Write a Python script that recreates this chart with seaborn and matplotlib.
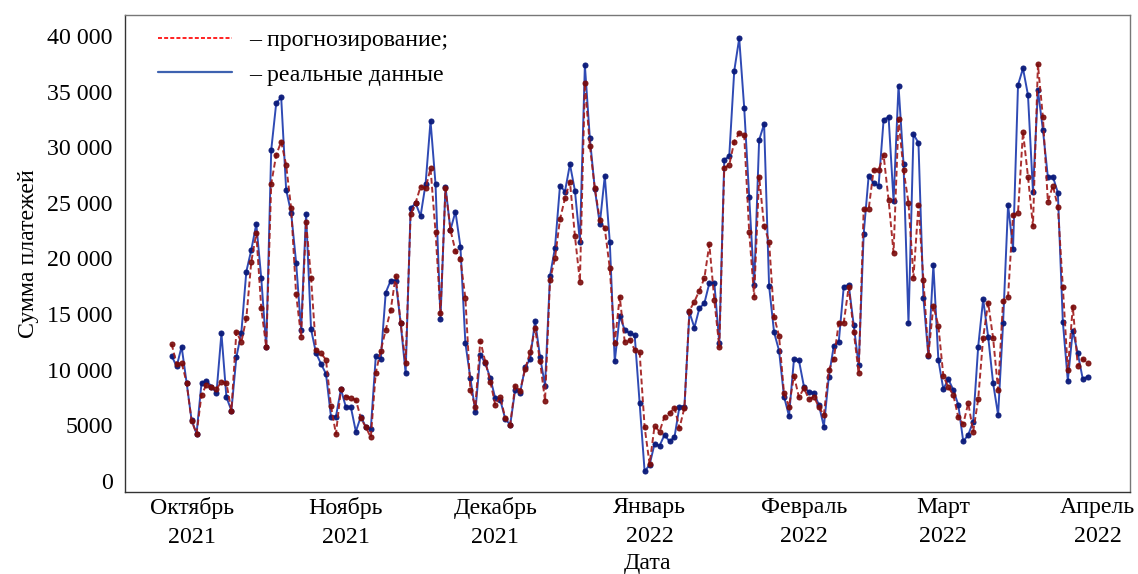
import numpy as np
import pandas as pd
import matplotlib
matplotlib.use("Agg")
import matplotlib.pyplot as plt
import matplotlib.dates as mdates
import matplotlib.transforms as mtransforms
from matplotlib.lines import Line2D
from matplotlib.ticker import FuncFormatter
import seaborn as sns

# ---------------- data ----------------
start_date = "2021-09-28"
real = [11240, 10280, 12070, 8840, 5480, 4230, 8800, 9020, 8480, 7880,
        13270, 7520, 6320, 11120, 13330, 18820, 20770, 23100, 18220, 12020,
        29750, 33950, 34490, 26160, 24120, 19630, 13570, 24000, 13630, 11480,
        10520, 9620, 5780, 5780, 8240, 6620, 6620, 4430, 5780, 4830,
        4650, 11180, 10940, 16930, 18010, 18010, 14170, 9680, 24510, 24960,
        23820, 26670, 32360, 26700, 14560, 26460, 22560, 24210, 21070, 12380,
        9230, 6230, 11330, 10580, 9230, 7430, 7280, 5570, 5030, 8180,
        7940, 10220, 10940, 14410, 11120, 8570, 18430, 20970, 26550, 26010,
        28470, 26100, 21510, 37390, 30800, 26220, 23100, 27420, 21510, 10730,
        14830, 13570, 13270, 13120, 6980, 840, 1440, 3330, 3150, 4140,
        3540, 3930, 6680, 6680, 15160, 13780, 15520, 15970, 17770, 17830,
        12380, 28850, 29210, 36860, 39800, 33560, 25500, 17620, 30650, 32090,
        17530, 13360, 11710, 7580, 5840, 10940, 10820, 8480, 7970, 7940,
        6830, 4880, 9380, 12140, 12520, 17470, 17620, 14020, 10370, 22200,
        27420, 26760, 26550, 32450, 32750, 25170, 35540, 28530, 14170, 31160,
        30410, 16420, 11180, 19420, 10880, 8240, 9140, 8180, 6830, 3540,
        4140, 5330, 12070, 16330, 12970, 8780, 5930, 14170, 24810, 20860,
        35600, 37090, 34700, 26010, 35150, 31550, 27300, 27360, 25920, 14320,
        9020, 13510, 11480, 9170, 9380]

forecast = [12300, 10500, 10630, 8840, 5400, 4230, 7730, 8650, 8480, 8240,
            8930, 8780, 6320, 13420, 12470, 14620, 19720, 22260, 15520, 12020,
            26700, 29300, 30500, 28400, 24510, 16780, 12970, 23310, 18220, 11780,
            11480, 10880, 6740, 4200, 8240, 7580, 7430, 7280, 5630, 4830,
            3900, 9740, 11690, 13570, 15370, 18430, 14170, 10580, 23970, 25000,
            26460, 26310, 28110, 22410, 15070, 26310, 22560, 20680, 19930, 16420,
            8180, 6680, 12580, 10700, 8930, 6830, 7580, 5630, 5030, 8570,
            8120, 10040, 11540, 13720, 10730, 7190, 18070, 20020, 23520, 25410,
            26910, 22020, 17910, 35750, 30140, 26310, 23460, 22710, 19120, 12380,
            16570, 12520, 12700, 11780, 11540, 4830, 1500, 4940, 4430, 5780,
            6080, 6590, 4740, 6590, 15310, 16120, 17110, 18220, 21280, 16270,
            12020, 28160, 28410, 30500, 31250, 31100, 22410, 16570, 27360, 22920,
            21510, 14770, 13030, 7880, 6680, 9440, 7520, 8330, 7340, 7580,
            6620, 5930, 9980, 10940, 14230, 14230, 17470, 13420, 9680, 24420,
            24420, 27960, 27960, 29300, 25260, 20530, 32510, 27960, 25020, 18280,
            24810, 18070, 11330, 15730, 13960, 9440, 8420, 7730, 5720, 5120,
            6980, 4430, 7340, 12880, 16030, 12820, 8180, 16200, 16570, 23910,
            24120, 31400, 27360, 22920, 37450, 32690, 25110, 26550, 24660, 17470,
            9980, 15670, 10340, 10970, 10580]

month_names = {1: "Январь", 2: "Февраль", 3: "Март", 4: "Апрель",
               10: "Октябрь", 11: "Ноябрь", 12: "Декабрь"}
legend_labels = ["– прогнозирование;", "– реальные данные"]
x_label = "Дата"
y_label = "Сумма платежей"

dates = pd.date_range(start_date, periods=len(real), freq="D")
df = pd.DataFrame({"date": dates, "real": real, "forecast": forecast})

# ---------------- style ----------------
sns.set_style("white")
plt.rcParams["font.family"] = ["Liberation Serif", "DejaVu Serif"]
plt.rcParams["text.color"] = "black"
plt.rcParams["axes.labelcolor"] = "black"
plt.rcParams["xtick.color"] = "black"
plt.rcParams["ytick.color"] = "black"
FS = 17.2

fig = plt.figure(figsize=(11.38, 5.74), dpi=100)
ax = fig.add_axes([0.110, 0.143, 0.883, 0.831])

sns.lineplot(data=df, x="date", y="real", ax=ax, color="#2440b0",
             linewidth=1.4, marker="o", markersize=3.6,
             markerfacecolor="#0a1a7a", markeredgecolor="#0a1a7a",
             alpha=0.95, legend=False)
sns.lineplot(data=df, x="date", y="forecast", ax=ax, color="#a01818",
             linewidth=1.4, linestyle=(0, (3, 1.6)), marker="o", markersize=3.6,
             markerfacecolor="#7a0a0a", markeredgecolor="#7a0a0a",
             alpha=0.9, legend=False)

ax.set_xlim(pd.Timestamp("2021-09-18 16:00"), pd.Timestamp("2022-04-08 12:00"))
ax.set_ylim(-1000, 41900)
ax.set_yticks(np.arange(0, 40001, 5000))


def yfmt(v, pos):
    v = int(round(v))
    if v >= 10000:
        return f"{v:,}".replace(",", " ")
    return str(v)


ax.yaxis.set_major_formatter(FuncFormatter(yfmt))
ax.xaxis.set_major_locator(mdates.MonthLocator())
ax.xaxis.set_major_formatter(FuncFormatter(
    lambda v, pos: f"{month_names[mdates.num2date(v).month]}\n{mdates.num2date(v).year}"))

ax.tick_params(axis="y", length=0, pad=9, labelsize=FS)
ax.tick_params(axis="x", length=3, width=0.8, pad=1, labelsize=FS, color="#555555")
shift = mtransforms.ScaledTranslation(5 / 100, 0, fig.dpi_scale_trans)
for lab in ax.get_xticklabels():
    lab.set_linespacing(1.5)
    lab.set_transform(lab.get_transform() + shift)

ax.set_xlabel(x_label, fontsize=FS)
ax.xaxis.set_label_coords(0.52, -0.128)
ax.set_ylabel(y_label, fontsize=FS, labelpad=6)

for side, sp in ax.spines.items():
    sp.set_visible(True)
    sp.set_linewidth(1.0)
    sp.set_color("#333333" if side in ("left", "bottom") else "#777777")

handles = [Line2D([0], [0], color="#ff1010", linestyle=(0, (2.2, 1.2)), linewidth=1.3),
           Line2D([0], [0], color="#3e62b0", linestyle="-", linewidth=1.6)]
ax.legend(handles, legend_labels, loc="upper left", bbox_to_anchor=(0.018, 1.0),
          frameon=False, fontsize=FS, handlelength=3.1, handletextpad=0.75,
          labelspacing=0.55, borderaxespad=0.2)

fig.savefig("out.png", dpi=100)
